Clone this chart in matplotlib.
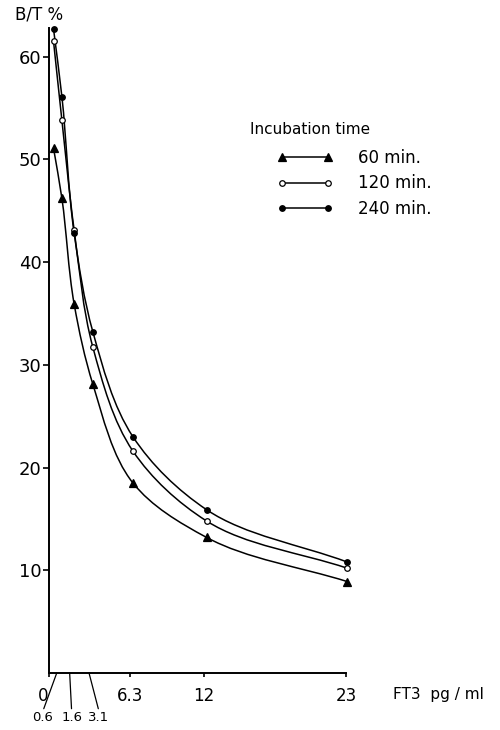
import numpy as np
import matplotlib
matplotlib.use('Agg')
import matplotlib.pyplot as plt
from matplotlib.path import Path
from matplotlib.patches import PathPatch
from matplotlib.lines import Line2D
from matplotlib.legend_handler import HandlerLine2D
from matplotlib.transforms import ScaledTranslation

plt.rcParams['font.family'] = ['DejaVu Sans']

# FT3 (pg/ml) where the points sit on the drawing, and B/T % per incubation time
ft3 = [0.35, 1.0, 1.95, 3.4, 6.5, 12.2, 23.1]
bt_60 = [51.1, 46.2, 35.9, 28.1, 18.5, 13.2, 8.9]
bt_120 = [61.5, 53.8, 43.1, 31.7, 21.6, 14.8, 10.2]
bt_240 = [62.7, 56.1, 42.8, 33.2, 23.0, 15.9, 10.8]

series_labels = ['60 min.', '120 min.', '240 min.']
main_ticks = [0, 6.3, 12, 23]
main_tick_labels = ['0', '6.3', '12', '23']
small_ticks = [0.6, 1.6, 3.1]
small_tick_labels = ['0.6', '1.6', '3.1']
y_ticks = [10, 20, 30, 40, 50, 60]


def smooth_path(ax, xs, ys, alpha=0.8):
    # catmull-rom through the points, as bezier segments in data coords
    P = np.column_stack([xs, ys]).astype(float)
    D = ax.transData.transform(P)  # knot spacing measured on screen
    P = np.vstack([2 * P[0] - P[1], P, 2 * P[-1] - P[-2]])
    D = np.vstack([2 * D[0] - D[1], D, 2 * D[-1] - D[-2]])
    t = np.linalg.norm(np.diff(D, axis=0), axis=1) ** alpha
    verts = [tuple(P[1])]
    codes = [Path.MOVETO]
    for i in range(1, len(P) - 2):
        p0, p1, p2, p3 = P[i - 1], P[i], P[i + 1], P[i + 2]
        t01, t12, t23 = t[i - 1], t[i], t[i + 1]
        m1 = (p1 - p0) / t01 - (p2 - p0) / (t01 + t12) + (p2 - p1) / t12
        m2 = (p2 - p1) / t12 - (p3 - p1) / (t12 + t23) + (p3 - p2) / t23
        m1 *= t12
        m2 *= t12
        verts += [tuple(p1 + m1 / 3), tuple(p2 - m2 / 3), tuple(p2)]
        codes += [Path.CURVE4] * 3
    return Path(verts, codes)


fig = plt.figure(figsize=(5, 7.3), dpi=100)
ax = fig.add_axes([0.098, 0.0781, 0.594, 0.8836])
ax.set_xlim(0, 23)
ax.set_ylim(0, 62.8)

styles = [
    dict(marker='^', mfc='black', ms=5.5),
    dict(marker='o', mfc='white', ms=4),
    dict(marker='o', mfc='black', ms=4),
]

for vals, st in zip([bt_60, bt_120, bt_240], styles):
    ax.add_patch(PathPatch(smooth_path(ax, ft3, vals), fill=False, lw=1.1, ec='black',
                           clip_on=False))
    ax.plot(ft3, vals, ls='none', color='black', mec='black', mew=0.9,
            clip_on=False, zorder=3, **st)

for s in ['top', 'right']:
    ax.spines[s].set_visible(False)
for s in ['left', 'bottom']:
    ax.spines[s].set_linewidth(1.4)

ax.set_yticks(y_ticks)
ax.set_yticklabels([str(v) for v in y_ticks])
ax.tick_params(axis='y', direction='out', length=4, width=1.2, pad=1.5, labelsize=13)

ax.set_xticks(main_ticks)
ax.set_xticklabels(main_tick_labels)
ax.tick_params(axis='x', direction='out', length=3, width=1.2, pad=7, labelsize=12)
zero_lbl = ax.get_xticklabels()[0]
zero_lbl.set_transform(zero_lbl.get_transform() + ScaledTranslation(-6 / 100, 0, fig.dpi_scale_trans))

# small standards labelled below with leader lines
offsets = [(-14, -45), (2, -45), (10, -45)]
for xv, lbl, off in zip(small_ticks, small_tick_labels, offsets):
    ax.annotate(lbl, xy=(xv, 0), xycoords='data', xytext=off, textcoords='offset pixels',
                ha='center', va='center', fontsize=9.5, annotation_clip=False,
                arrowprops=dict(arrowstyle='-', lw=0.9, color='black',
                                shrinkA=0, shrinkB=0, relpos=(0.5, 1)))

ax.set_xlabel('FT3  pg / ml', fontsize=11, ha='left', va='center')
ax.xaxis.set_label_coords(1.158, -0.034)
ax.set_ylabel('B/T %', fontsize=12, rotation=0, ha='left', va='center')
ax.yaxis.set_label_coords(-0.114, 1.021)

# legend
handles = [Line2D([], [], color='black', lw=1.1, mec='black', mew=0.9, **st) for st in styles]
ax.legend(handles, series_labels, loc='upper left', bbox_to_anchor=(0.785, 0.813),
          frameon=False, fontsize=12, handlelength=2.76,
          handler_map={Line2D: HandlerLine2D(marker_pad=0, numpoints=2)},
          handletextpad=1.8, labelspacing=0.47, borderpad=0, borderaxespad=0)
ax.text(0.677, 0.843, 'Incubation time', transform=ax.transAxes, fontsize=11,
        ha='left', va='center')

fig.savefig('out.png', dpi=100)
